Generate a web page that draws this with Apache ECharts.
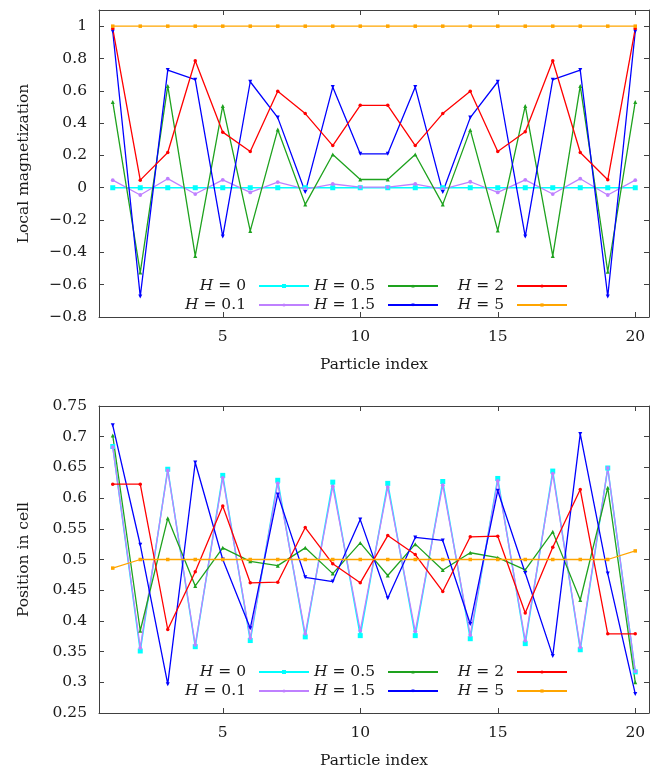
<!DOCTYPE html>
<html>
<head>
<meta charset="utf-8">
<script src="https://cdn.jsdelivr.net/npm/echarts@6/dist/echarts.min.js"></script>
<style>
  html, body { margin: 0; padding: 0; background: #ffffff; }
  #chart { width: 655px; height: 770px; }
</style>
</head>
<body>
<div id="chart"></div>
<script>
// Particle indices along the chain
const particles = [1, 2, 3, 4, 5, 6, 7, 8, 9, 10, 11, 12, 13, 14, 15, 16, 17, 18, 19, 20];

// Field strengths (series names)
const fieldNames = ['H = 0', 'H = 0.1', 'H = 0.5', 'H = 1.5', 'H = 2', 'H = 5'];

// Local magnetization per particle
const magH0  = [0, 0, 0, 0, 0, 0, 0, 0, 0, 0, 0, 0, 0, 0, 0, 0, 0, 0, 0, 0];
const magH01 = [0.047, -0.045, 0.056, -0.039, 0.049, -0.029, 0.035, -0.008, 0.023, 0.004,
                0.004, 0.023, -0.008, 0.037, -0.029, 0.049, -0.039, 0.056, -0.045, 0.047];
const magH05 = [0.531, -0.525, 0.63, -0.422, 0.506, -0.267, 0.36, -0.103, 0.206, 0.051,
                0.051, 0.206, -0.103, 0.358, -0.265, 0.506, -0.422, 0.63, -0.52, 0.531];
const magH15 = [0.967, -0.673, 0.728, 0.669, -0.302, 0.656, 0.434, -0.027, 0.623, 0.21,
                0.21, 0.623, -0.027, 0.434, 0.656, -0.302, 0.669, 0.728, -0.673, 0.967];
const magH2  = [0.985, 0.047, 0.218, 0.786, 0.344, 0.224, 0.597, 0.459, 0.261, 0.51,
                0.51, 0.261, 0.459, 0.597, 0.224, 0.346, 0.786, 0.218, 0.049, 0.985];
const magH5  = [1, 1, 1, 1, 1, 1, 1, 1, 1, 1, 1, 1, 1, 1, 1, 1, 1, 1, 1, 1];

// Position of each particle inside its cell
const posH0  = [0.684, 0.351, 0.647, 0.358, 0.637, 0.368, 0.629, 0.374, 0.626, 0.376,
                0.624, 0.376, 0.627, 0.371, 0.632, 0.363, 0.644, 0.353, 0.649, 0.317];
const posH01 = [0.683, 0.356, 0.645, 0.361, 0.633, 0.372, 0.624, 0.379, 0.619, 0.384,
                0.618, 0.383, 0.621, 0.377, 0.628, 0.368, 0.640, 0.357, 0.649, 0.318];
const posH05 = [0.702, 0.384, 0.567, 0.457, 0.519, 0.497, 0.490, 0.519, 0.477, 0.527,
                0.474, 0.525, 0.483, 0.511, 0.503, 0.483, 0.545, 0.434, 0.617, 0.300];
const posH15 = [0.7185, 0.524, 0.297, 0.658, 0.500, 0.388, 0.606, 0.471, 0.464, 0.565,
                0.437, 0.536, 0.531, 0.395, 0.612, 0.478, 0.343, 0.7045, 0.477, 0.281];
const posH2  = [0.6226, 0.6226, 0.386, 0.480, 0.587, 0.462, 0.463, 0.552, 0.493, 0.462,
                0.539, 0.508, 0.448, 0.537, 0.538, 0.413, 0.520, 0.614, 0.379, 0.379];
const posH5  = [0.486, 0.5, 0.5, 0.5, 0.5, 0.5, 0.5, 0.5, 0.5, 0.5,
                0.5, 0.5, 0.5, 0.5, 0.5, 0.5, 0.5, 0.5, 0.5, 0.514];

// Tick labels
const xTicks = [5, 10, 15, 20];
const magTicks = [-0.8, -0.6, -0.4, -0.2, 0, 0.2, 0.4, 0.6, 0.8, 1];
const posTicks = [0.25, 0.3, 0.35, 0.4, 0.45, 0.5, 0.55, 0.6, 0.65, 0.7, 0.75];

const magSets = [magH0, magH01, magH05, magH15, magH2, magH5];
const posSets = [posH0, posH01, posH05, posH15, posH2, posH5];

// Drawing styles per field
const styles = [
  { color: '#00ffff', symbol: 'rect',     size: 5,   rotate: 0,   width: 1.5, legendH: 5 },
  { color: '#bf80ff', symbol: 'circle',   size: 3.8, rotate: 0,   width: 1.3, legendH: 4 },
  { color: '#1ea21e', symbol: 'triangle', size: 4,   rotate: 0,   width: 1.3, legendH: 4 },
  { color: '#0000ff', symbol: 'triangle', size: 4,   rotate: 180, width: 1.3, legendH: 4 },
  { color: '#ff0000', symbol: 'circle',   size: 3.5, rotate: 0,   width: 1.3, legendH: 4 },
  { color: '#ffa500', symbol: 'rect',     size: 3.5, rotate: 0,   width: 1.3, legendH: 4 }
];

const FONT = 'DejaVu Serif';
const TEXT = '#1a1a1a';
const FRAME = '#404040';
const FS = 15.5;

const fmt = v => String(Math.round(v * 100) / 100).replace('-', '\u2212');

function frameAxis(extra) {
  return Object.assign({
    type: 'value',
    axisLine: { show: true, onZero: false, lineStyle: { color: FRAME, width: 1 } },
    splitLine: { show: false },
    axisPointer: { show: false }
  }, extra);
}

const grids = [
  { left: 99, right: 6, top: 10, height: 307 },
  { left: 99, right: 6, top: 406, height: 307 }
];

const xAxes = [];
const yAxes = [];
[0, 1].forEach(g => {
  xAxes.push(frameAxis({
    gridIndex: g, position: 'bottom', min: 0.5, max: 20.5,
    axisTick: { inside: true, length: 5, lineStyle: { color: FRAME }, customValues: xTicks },
    axisLabel: { customValues: xTicks, margin: 12, fontFamily: FONT, fontSize: FS, color: TEXT },
    name: 'Particle index', nameLocation: 'middle', nameGap: 40,
    nameTextStyle: { fontFamily: FONT, fontSize: FS, color: TEXT }
  }));
  xAxes.push(frameAxis({
    gridIndex: g, position: 'top', min: 0.5, max: 20.5,
    axisTick: { inside: true, length: 5, lineStyle: { color: FRAME }, customValues: xTicks },
    axisLabel: { show: false }
  }));
  const ticks = g === 0 ? magTicks : posTicks;
  const ymin = g === 0 ? -0.8 : 0.25;
  const ymax = g === 0 ? 1.1 : 0.75;
  yAxes.push(frameAxis({
    gridIndex: g, position: 'left', min: ymin, max: ymax,
    axisTick: { inside: true, length: 5, lineStyle: { color: FRAME }, customValues: ticks },
    axisLabel: { customValues: ticks, margin: 12, formatter: fmt, fontFamily: FONT, fontSize: FS, color: TEXT },
    name: g === 0 ? 'Local magnetization' : 'Position in cell',
    nameLocation: 'middle', nameGap: 67,
    nameTextStyle: { fontFamily: FONT, fontSize: FS, color: TEXT }
  }));
  yAxes.push(frameAxis({
    gridIndex: g, position: 'right', min: ymin, max: ymax,
    axisTick: { inside: true, length: 5, lineStyle: { color: FRAME }, customValues: ticks },
    axisLabel: { show: false }
  }));
});

const series = [];
[magSets, posSets].forEach((sets, g) => {
  sets.forEach((vals, i) => {
    const s = styles[i];
    series.push({
      type: 'line',
      name: fieldNames[i],
      xAxisIndex: g * 2,
      yAxisIndex: g * 2,
      data: particles.map((p, k) => [p, vals[k]]),
      symbol: s.symbol,
      symbolSize: s.size,
      symbolRotate: s.rotate,
      showSymbol: true,
      lineStyle: { color: s.color, width: s.width },
      itemStyle: { color: s.color, borderWidth: 0 },
      emphasis: { disabled: true },
      animation: false
    });
  });
});

// Legend: two rows by three columns, text to the left of each sample line
const legendRows = [['H = 0', 'H = 0.5', 'H = 2'], ['H = 0.1', 'H = 1.5', 'H = 5']];
const legendRight = [345, 216, 87];
const legendRowCenters = [[286, 305], [672, 691]];

const legends = [];
legendRowCenters.forEach(centers => {
  legendRows.forEach((row, r) => {
    row.forEach((name, c) => {
      const s = styles[fieldNames.indexOf(name)];
      legends.push({
        data: [name],
        orient: 'horizontal',
        align: 'right',
        right: legendRight[c],
        top: centers[r] - 9,
        padding: 0,
        itemGap: 0,
        itemWidth: 50,
        itemHeight: s.legendH,
        selectedMode: false,
        formatter: n => '{i|H}' + n.slice(1),
        textStyle: {
          fontFamily: FONT, fontSize: FS, color: TEXT, lineHeight: 18,
          padding: [0, 8, 0, 0],
          rich: { i: { fontFamily: FONT, fontSize: FS, fontStyle: 'italic', color: TEXT, lineHeight: 18 } }
        }
      });
    });
  });
});

const chart = echarts.init(document.getElementById('chart'), null, { renderer: 'canvas' });
chart.setOption({
  animation: false,
  backgroundColor: '#ffffff',
  grid: grids,
  xAxis: xAxes,
  yAxis: yAxes,
  legend: legends,
  series: series
});
</script>
</body>
</html>
